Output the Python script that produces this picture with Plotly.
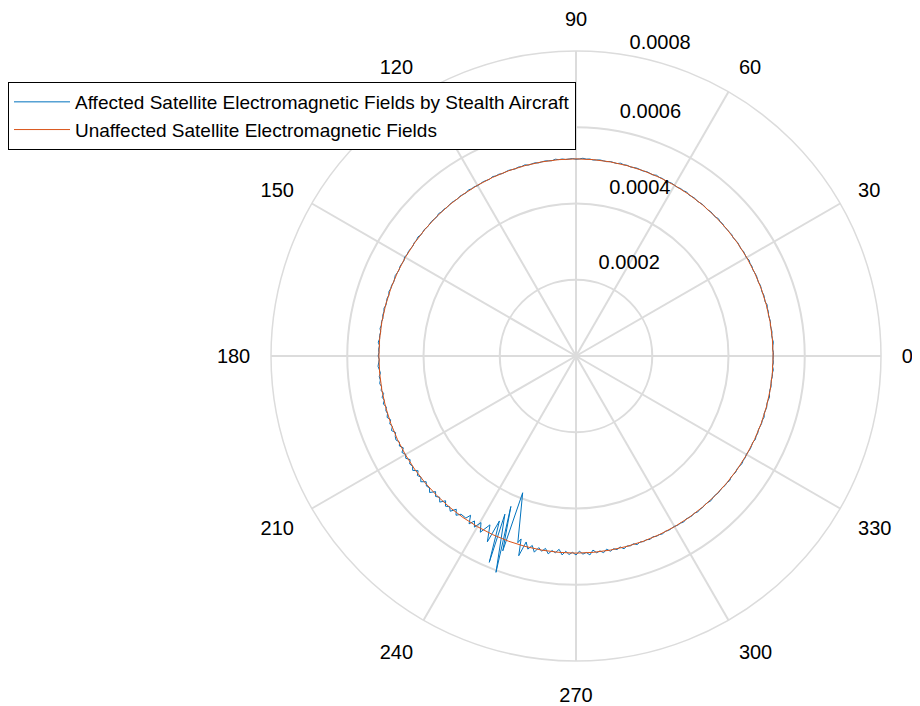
import plotly.graph_objects as go

# ---------------- data ----------------
# Affected field: about one sample per degree; the disturbed stretch near
# 235-254 degrees is read point by point (angle, radius) from the picture.
theta_affected = [
    *range(0, 235),
    235.8, 236.5, 237.5, 238.4, 239.3, 240.3, 241.5, 243.0, 244.5,
    245.1, 247.2, 245.8, 249.7, 246.6, 249.4, 248.7, 252.7, 253.3,
    *range(254, 361),
]
# radii in units of 1e-6
r_affected_e6 = [
    517, 518, 516, 517, 519, 517, 516, 518, 517, 516,   # 0-9
    518, 517, 516, 518, 517, 519, 516, 517, 518, 516,   # 10-19
    517, 518, 516, 517, 518, 517, 516, 518, 517, 519,   # 20-29
    516, 517, 518, 516, 517, 518, 517, 516, 518, 517,   # 30-39
    517, 516, 518, 517, 519, 516, 517, 518, 516, 517,   # 40-49
    518, 517, 516, 518, 517, 516, 519, 517, 518, 516,   # 50-59
    517, 518, 517, 516, 518, 517, 519, 516, 517, 518,   # 60-69
    516, 517, 518, 517, 516, 518, 517, 519, 516, 517,   # 70-79
    518, 516, 517, 518, 517, 516, 518, 517, 519, 517,   # 80-89
    516, 518, 517, 516, 518, 517, 519, 516, 517, 518,   # 90-99
    517, 516, 518, 517, 516, 519, 517, 518, 516, 517,   # 100-109
    518, 517, 516, 518, 517, 519, 516, 517, 518, 517,   # 110-119
    516, 518, 517, 519, 516, 517, 518, 516, 517, 518,   # 120-129
    517, 516, 518, 517, 519, 516, 517, 518, 517, 516,   # 130-139
    518, 517, 516, 519, 517, 518, 516, 517, 518, 517,   # 140-149
    519, 516, 517, 518, 516, 517, 519, 517, 516, 518,   # 150-159
    517, 519, 516, 518, 517, 516, 519, 517, 518, 516,   # 160-169
    518, 517, 519, 516, 518, 517, 520, 516, 518, 517,   # 170-179
    519, 516, 518, 520, 517, 515, 519, 517, 520, 516,   # 180-189
    519, 514, 520, 516, 521, 515, 519, 517, 521, 514,   # 190-199
    520, 516, 522, 514, 519, 521, 515, 520, 513, 522,   # 200-209
    516, 521, 513, 520, 517, 523, 512, 521, 516, 524,   # 210-219
    513, 520, 517, 525, 512, 521, 515, 524, 511, 522,   # 220-229
    516, 524, 510, 523, 513,                            # 230-234
    514, 501, 522, 508, 522, 503, 526, 497, 540,        # disturbed stretch
    477, 587, 455, 605, 430, 546, 385, 513, 501,
    545, 505, 522, 510, 526, 512,                       # 254-259
    520, 511, 524, 514, 519, 509, 523, 513, 521, 515,   # 260-269
    522, 512, 520, 516, 523, 511, 519, 515, 521, 513,   # 270-279
    520, 515, 519, 514, 521, 516, 518, 515, 520, 516,   # 280-289
    518, 516, 519, 515, 518, 517, 519, 516, 518, 517,   # 290-299
    516, 518, 517, 519, 516, 517, 518, 516, 519, 517,   # 300-309
    518, 516, 517, 519, 517, 516, 518, 517, 516, 518,   # 310-319
    517, 519, 516, 517, 518, 516, 517, 519, 517, 518,   # 320-329
    516, 517, 518, 517, 516, 519, 517, 518, 516, 517,   # 330-339
    518, 517, 519, 516, 517, 518, 516, 517, 519, 517,   # 340-349
    516, 518, 517, 516, 518, 517, 519, 516, 518, 517,   # 350-359
    517,                                                # 360
]

# Unaffected field: one sample every 5 degrees (values in units of 1e-6)
theta_unaffected = list(range(0, 361, 5))
r_unaffected_e6 = [
    517, 517, 517, 517, 517, 517, 517, 517, 517, 517,
    517, 517, 517, 517, 517, 517, 517, 517, 517, 517,
    517, 517, 517, 517, 517, 517, 517, 517, 517, 517,
    517, 517, 517, 517, 517, 517, 517, 517, 517, 517,
    517, 517, 517, 517, 517, 517, 517, 517, 517, 517,
    517, 517, 517, 517, 517, 517, 517, 517, 517, 517,
    517, 517, 517, 517, 517, 517, 517, 517, 517, 517,
    517, 517, 517,
]

angular_ticks = [0, 30, 60, 90, 120, 150, 180, 210, 240, 270, 300, 330]
radial_ticks = [0.0002, 0.0004, 0.0006, 0.0008]
radial_tick_labels = ["0.0002", "0.0004", "0.0006", "0.0008"]
r_max = 0.0008

series_names = [
    "Affected Satellite Electromagnetic Fields by Stealth Aircraft",
    "Unaffected Satellite Electromagnetic Fields",
]

# ---------------- styling constants ----------------
RADIAL_LABEL_ANGLE = 82        # direction along which the r tick labels sit
RADIAL_LABEL_LIFT = 0.000017   # small outward nudge so labels sit above their rings
GRID = "#dcdcdc"
FONT = "Liberation Sans, Arial, Helvetica, sans-serif"

# ---------------- figure ----------------
r_affected = [v * 1e-6 for v in r_affected_e6]
r_unaffected = [v * 1e-6 for v in r_unaffected_e6]

fig = go.Figure()
fig.add_trace(go.Scatterpolar(
    r=r_affected, theta=theta_affected, mode="lines",
    line=dict(color="#0072BD", width=1), name=series_names[0],
))
fig.add_trace(go.Scatterpolar(
    r=r_unaffected, theta=theta_unaffected, mode="lines",
    line=dict(color="#D95319", width=1), name=series_names[1],
))
# radial tick labels (r axis labels drawn through the polar scale)
fig.add_trace(go.Scatterpolar(
    r=[min(t + RADIAL_LABEL_LIFT, r_max) for t in radial_ticks],
    theta=[RADIAL_LABEL_ANGLE] * len(radial_ticks),
    mode="text", text=["  " + s for s in radial_tick_labels],
    textposition="top right",
    textfont=dict(size=20, color="#000000", family=FONT),
    showlegend=False, hoverinfo="skip", cliponaxis=False,
))

fig.update_layout(
    width=920, height=706,
    margin=dict(l=0, r=0, t=0, b=0),
    paper_bgcolor="white",
    font=dict(family=FONT, size=20, color="#000000"),
    polar=dict(
        domain=dict(x=[263 / 920, 873 / 920], y=[1 - 653 / 706, 1 - 43 / 706]),
        bgcolor="white",
        radialaxis=dict(
            range=[0, r_max], tickvals=radial_ticks, showticklabels=False,
            ticks="", showline=False, gridcolor=GRID, gridwidth=1.5,
            angle=RADIAL_LABEL_ANGLE,
        ),
        angularaxis=dict(
            tickvals=angular_ticks, ticktext=[str(t) for t in angular_ticks],
            direction="counterclockwise", rotation=0,
            ticks="outside", ticklen=16, tickcolor="rgba(0,0,0,0)",
            showline=True, linecolor=GRID, linewidth=1.5,
            gridcolor=GRID, gridwidth=1.5,
            tickfont=dict(size=20, color="#000000", family=FONT),
        ),
    ),
    legend=dict(
        x=0, y=1 - 74 / 706, xanchor="left", yanchor="top",
        bgcolor="white", bordercolor="#000000", borderwidth=1,
        font=dict(size=19, family=FONT, color="#000000"),
        tracegroupgap=0, itemwidth=56,
    ),
)

fig.write_html("out.html")
